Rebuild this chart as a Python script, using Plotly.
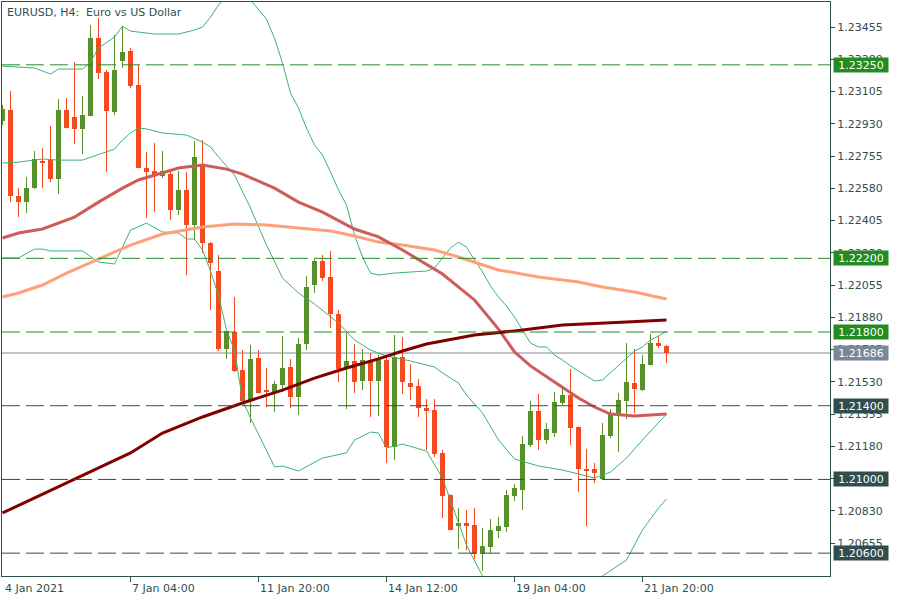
import plotly.graph_objects as go

# ---------------- data ----------------
tick_idx = [16, 32, 48, 64, 80]
tick_labels = ["7 Jan 04:00", "11 Jan 20:00", "14 Jan 12:00", "19 Jan 04:00", "21 Jan 20:00"]
first_label = "4 Jan 2021"

opens = [1.22945, 1.23005, 1.22538, 1.22505, 1.22581, 1.22728, 1.22733, 1.22630, 1.23005, 1.22967,
         1.22902, 1.22972, 1.23395, 1.23211, 1.22994, 1.23271, 1.23325, 1.23140, 1.22690, 1.22674,
         1.22647, 1.22657, 1.22462, 1.22571, 1.22381, 1.22706, 1.22283, 1.22131, 1.21708, 1.21800,
         1.21594, 1.21431, 1.21659, 1.21480, 1.21469, 1.21512, 1.21610, 1.21447, 1.21735, 1.22055,
         1.22185, 1.22099, 1.21898, 1.21599, 1.21643, 1.21534, 1.21648, 1.21534, 1.21648, 1.21176,
         1.21664, 1.21523, 1.21507, 1.21388, 1.21377, 1.21144, 1.20916, 1.20747, 1.20764, 1.20753,
         1.20595, 1.20633, 1.20720, 1.20742, 1.20910, 1.20943, 1.21187, 1.21371, 1.21214, 1.21252,
         1.21415, 1.21458, 1.21285, 1.21057, 1.21057, 1.21002, 1.21236, 1.21350, 1.21426, 1.21523,
         1.21485, 1.21621, 1.21740, 1.21724]
highs = [1.23032, 1.23108, 1.22581, 1.22641, 1.22782, 1.22798, 1.22918, 1.23064, 1.23070, 1.23265,
         1.23081, 1.23466, 1.23504, 1.23222, 1.23412, 1.23460, 1.23341, 1.23249, 1.22777, 1.22826,
         1.22782, 1.22679, 1.22674, 1.22668, 1.22836, 1.22842, 1.22288, 1.22218, 1.21808, 1.21990,
         1.21702, 1.21730, 1.21702, 1.21605, 1.21534, 1.21778, 1.21654, 1.21768, 1.22104, 1.22196,
         1.22218, 1.22240, 1.21919, 1.21795, 1.21735, 1.21708, 1.21686, 1.21675, 1.21664, 1.21784,
         1.21773, 1.21626, 1.21545, 1.21436, 1.21436, 1.21160, 1.20918, 1.20845, 1.20834, 1.20845,
         1.20737, 1.20785, 1.20796, 1.20943, 1.20975, 1.21236, 1.21426, 1.21464, 1.21306, 1.21475,
         1.21502, 1.21599, 1.21287, 1.21165, 1.21089, 1.21306, 1.21382, 1.21469, 1.21740, 1.21708,
         1.21675, 1.21789, 1.21778, 1.21730]
lows = [1.22923, 1.22505, 1.22424, 1.22446, 1.22576, 1.22581, 1.22614, 1.22549, 1.22905, 1.22820,
        1.22766, 1.22970, 1.23173, 1.22668, 1.22978, 1.23233, 1.23124, 1.22688, 1.22419, 1.22451,
        1.22636, 1.22408, 1.22435, 1.22109, 1.22299, 1.22229, 1.21919, 1.21697, 1.21654, 1.21583,
        1.21420, 1.21306, 1.21467, 1.21393, 1.21366, 1.21475, 1.21388, 1.21350, 1.21702, 1.22012,
        1.22077, 1.21822, 1.21529, 1.21382, 1.21469, 1.21485, 1.21339, 1.21344, 1.21089, 1.21106,
        1.21464, 1.21431, 1.21339, 1.21160, 1.21122, 1.20791, 1.20724, 1.20623, 1.20617, 1.20568,
        1.20503, 1.20601, 1.20682, 1.20715, 1.20883, 1.20834, 1.21176, 1.21160, 1.21192, 1.21230,
        1.21404, 1.21187, 1.20932, 1.20747, 1.20981, 1.21000, 1.21225, 1.21149, 1.21328, 1.21361,
        1.21480, 1.21619, 1.21713, 1.21632]
closes = [1.23010, 1.22538, 1.22505, 1.22581, 1.22739, 1.22722, 1.22630, 1.23005, 1.22907, 1.22902,
          1.22978, 1.23395, 1.23205, 1.22999, 1.23222, 1.23319, 1.23135, 1.22690, 1.22668, 1.22652,
          1.22674, 1.22462, 1.22571, 1.22381, 1.22750, 1.22283, 1.22174, 1.21708, 1.21806, 1.21588,
          1.21426, 1.21654, 1.21469, 1.21475, 1.21518, 1.21605, 1.21447, 1.21735, 1.22044, 1.22185,
          1.22093, 1.21898, 1.21599, 1.21643, 1.21529, 1.21648, 1.21534, 1.21648, 1.21176, 1.21664,
          1.21529, 1.21502, 1.21388, 1.21371, 1.21138, 1.20910, 1.20726, 1.20764, 1.20747, 1.20595,
          1.20639, 1.20726, 1.20747, 1.20916, 1.20954, 1.21192, 1.21371, 1.21214, 1.21274, 1.21420,
          1.21458, 1.21279, 1.21057, 1.21051, 1.21035, 1.21241, 1.21355, 1.21431, 1.21529, 1.21491,
          1.21626, 1.21740, 1.21724, 1.21686]

bb_up_idx = [0, 4, 6, 7, 10, 11, 12, 14, 15, 16, 19, 22, 24, 25, 26, 27, 29, 31, 33, 34, 35, 36, 37, 38, 39,
             40, 41, 42, 43, 44, 45, 46, 47, 49, 53, 54, 55, 56, 57, 58, 59, 60, 61, 62, 63, 64, 65, 66, 67,
             68, 69, 70, 71, 72, 73, 74, 75, 76, 77, 78, 79, 80, 81, 82, 83]
bb_up = [1.23243, 1.23233, 1.23200, 1.23227, 1.23227, 1.23265, 1.23341, 1.23401, 1.23460, 1.23433,
         1.23417, 1.23417, 1.23439, 1.23455, 1.23509, 1.23574, 1.23683, 1.23602, 1.23498, 1.23395,
         1.23260, 1.23097, 1.23016, 1.22907, 1.22815, 1.22761, 1.22668, 1.22571, 1.22489, 1.22326,
         1.22207, 1.22120, 1.22109, 1.22120, 1.22131, 1.22147, 1.22202, 1.22256, 1.22288, 1.22261,
         1.22191, 1.22126, 1.22050, 1.21990, 1.21941, 1.21881, 1.21811, 1.21740, 1.21719, 1.21719,
         1.21675, 1.21648, 1.21616, 1.21588, 1.21561, 1.21534, 1.21540, 1.21578, 1.21621, 1.21659,
         1.21697, 1.21719, 1.21757, 1.21778, 1.21806]
bb_mid_idx = [0, 2, 5, 7, 10, 12, 14, 15, 16, 17, 18, 20, 23, 25, 26, 27, 29, 31, 33, 35, 37, 39, 42, 44,
              46, 48, 51, 54, 55, 57, 58, 60, 62, 64, 67, 70, 74, 76, 78, 80, 82, 83]
bb_mid = [1.22717, 1.22722, 1.22739, 1.22733, 1.22733, 1.22761, 1.22793, 1.22842, 1.22880, 1.22907,
          1.22902, 1.22880, 1.22869, 1.22831, 1.22804, 1.22750, 1.22652, 1.22473, 1.22272, 1.22093,
          1.22012, 1.21952, 1.21849, 1.21757, 1.21702, 1.21670, 1.21643, 1.21610, 1.21578, 1.21523,
          1.21458, 1.21361, 1.21214, 1.21111, 1.21073, 1.21051, 1.21008, 1.21040, 1.21116, 1.21214,
          1.21306, 1.21355]
bb_lo_idx = [0, 2, 4, 5, 6, 10, 12, 14, 16, 18, 20, 22, 23, 24, 25, 26, 27, 28, 29, 30, 31, 33, 34, 35,
             37, 40, 43, 44, 46, 47, 48, 50, 53, 55, 56, 58, 60, 62, 67, 72, 74, 75, 78, 80, 82, 83]
bb_lo = [1.22202, 1.22202, 1.22250, 1.22250, 1.22240, 1.22240, 1.22180, 1.22169, 1.22353, 1.22391,
         1.22343, 1.22337, 1.22305, 1.22305, 1.22245, 1.22131, 1.22001, 1.21811, 1.21702, 1.21431,
         1.21334, 1.21154, 1.21068, 1.21073, 1.21046, 1.21116, 1.21144, 1.21214, 1.21257, 1.21252,
         1.21171, 1.21192, 1.21154, 1.21008, 1.20889, 1.20644, 1.20476, 1.20346, 1.20281, 1.20346,
         1.20427, 1.20476, 1.20563, 1.20726, 1.20845, 1.20894]

ma_red_idx = [0, 2, 5, 9, 12, 15, 17, 20, 22, 25, 28, 30, 34, 37, 40, 44, 47, 50, 53, 55, 59, 62, 64, 66,
              69, 72, 74, 76, 79, 83]
ma_red = [1.22310, 1.22337, 1.22359, 1.22424, 1.22505, 1.22581, 1.22625, 1.22663, 1.22690, 1.22706,
          1.22684, 1.22657, 1.22581, 1.22505, 1.22451, 1.22359, 1.22316, 1.22245, 1.22169, 1.22115,
          1.21974, 1.21816, 1.21692, 1.21616, 1.21529, 1.21442, 1.21393, 1.21355, 1.21344, 1.21355]
ma_salmon_idx = [0, 2, 5, 8, 12, 16, 20, 25, 29, 33, 37, 41, 44, 47, 50, 54, 57, 62, 67, 72, 75, 79, 83]
ma_salmon = [1.21990, 1.22012, 1.22055, 1.22120, 1.22196, 1.22272, 1.22332, 1.22370, 1.22386, 1.22381,
             1.22364, 1.22348, 1.22321, 1.22288, 1.22272, 1.22245, 1.22207, 1.22137, 1.22099, 1.22071,
             1.22044, 1.22017, 1.21979]
ma_maroon_idx = [0, 8, 16, 20, 25, 30, 35, 39, 43, 47, 50, 53, 59, 64, 70, 78, 83]
ma_maroon = [1.20818, 1.20981, 1.21144, 1.21252, 1.21339, 1.21415, 1.21485, 1.21550, 1.21605, 1.21654,
             1.21697, 1.21735, 1.21784, 1.21806, 1.21838, 1.21854, 1.21865]

price_ticks = [1.20655, 1.20830, 1.21005, 1.21180, 1.21355, 1.21530, 1.21705, 1.21880, 1.22055,
               1.22230, 1.22405, 1.22580, 1.22755, 1.22930, 1.23105, 1.23280, 1.23455]
green_levels = [1.2325, 1.2220, 1.2180]
slate_levels = [1.2140, 1.2100, 1.2060]
last_price = 1.21686

# ---------------- styles ----------------
BULL = "#58902B"
BEAR = "#F5491F"
FRAME = "#2F4F4F"
LEVEL_GREEN = "#228B22"
LEVEL_SLATE = "#2F4F4F"
PRICE_GRAY = "#778899"
FONT = "DejaVu Sans"

n = len(opens)
idx = list(range(n))

fig = go.Figure()

# wicks
for col, cond in ((BULL, True), (BEAR, False)):
    wx, wy = [], []
    for i in idx:
        if (closes[i] >= opens[i]) == cond:
            wx += [i, i, None]
            wy += [lows[i], highs[i], None]
    fig.add_trace(go.Scatter(x=wx, y=wy, mode="lines", line=dict(color=col, width=1),
                             hoverinfo="skip", showlegend=False))

# bodies
body_h = [max(abs(closes[i] - opens[i]), 0.00004) for i in idx]
body_b = [min(opens[i], closes[i]) for i in idx]
body_c = [BULL if closes[i] >= opens[i] else BEAR for i in idx]
fig.add_trace(go.Bar(x=idx, y=body_h, base=body_b, width=0.625,
                     marker=dict(color=body_c, line=dict(width=0)), showlegend=False))

# Bollinger bands
for bx, by in ((bb_up_idx, bb_up), (bb_mid_idx, bb_mid), (bb_lo_idx, bb_lo)):
    fig.add_trace(go.Scatter(x=bx, y=by, mode="lines", line=dict(color="#3CB371", width=1),
                             showlegend=False, hoverinfo="skip"))

# moving averages
fig.add_trace(go.Scatter(x=ma_salmon_idx, y=ma_salmon, mode="lines",
                         line=dict(color="#FFA07A", width=3), showlegend=False))
fig.add_trace(go.Scatter(x=ma_red_idx, y=ma_red, mode="lines",
                         line=dict(color="#CD5C5C", width=3), showlegend=False))
fig.add_trace(go.Scatter(x=ma_maroon_idx, y=ma_maroon, mode="lines",
                         line=dict(color="#800000", width=3), showlegend=False))

shapes = []
annotations = []


def level_box(val, color):
    annotations.append(dict(xref="paper", yref="y", x=1, y=val, xanchor="left", yanchor="middle",
                            xshift=3, text=f"{val:.5f}", showarrow=False, width=54, height=14,
                            bgcolor=color, borderpad=0,
                            font=dict(family=FONT, size=11, color="white")))


for lv in green_levels:
    shapes.append(dict(type="line", xref="paper", x0=0, x1=1, yref="y", y0=lv, y1=lv,
                       line=dict(color=LEVEL_GREEN, width=1, dash="18px,6px"), layer="above"))
    level_box(lv, LEVEL_GREEN)
for lv in slate_levels:
    shapes.append(dict(type="line", xref="paper", x0=0, x1=1, yref="y", y0=lv, y1=lv,
                       line=dict(color=LEVEL_SLATE, width=1, dash="18px,6px"), layer="above"))
    level_box(lv, LEVEL_SLATE)

shapes.append(dict(type="line", xref="paper", x0=0, x1=1, yref="y", y0=last_price, y1=last_price,
                   line=dict(color="#808A94", width=1), layer="below"))
level_box(last_price, PRICE_GRAY)

# title
annotations.append(dict(xref="paper", yref="paper", x=0, y=1, xanchor="left", yanchor="top",
                        xshift=3, yshift=-2, text="EURUSD, H4:  Euro vs US Dollar", showarrow=False,
                        font=dict(family=FONT, size=11, color=FRAME)))

# time labels (left aligned at the tick)
annotations.append(dict(xref="x", yref="paper", x=0, y=0, xanchor="left", yanchor="top", yshift=-4,
                        text=first_label, showarrow=False, font=dict(family=FONT, size=11, color=FRAME)))
for t, lab in zip(tick_idx, tick_labels):
    annotations.append(dict(xref="x", yref="paper", x=t, y=0, xanchor="left", yanchor="top", yshift=-4,
                            xshift=-1, text=lab, showarrow=False,
                            font=dict(family=FONT, size=11, color=FRAME)))

fig.update_layout(
    width=900, height=600,
    margin=dict(l=2, r=70, t=2, b=24),
    paper_bgcolor="white", plot_bgcolor="white",
    showlegend=False, bargap=0,
    shapes=shapes, annotations=annotations,
    xaxis=dict(range=[-0.0625, 103.4375], showgrid=False, zeroline=False, showline=True,
               linecolor=FRAME, linewidth=1, mirror=True, ticks="outside", tickvals=tick_idx,
               ticklen=5, tickcolor=FRAME, showticklabels=False, fixedrange=True),
    yaxis=dict(range=[1.20476, 1.23591], side="right", showgrid=False, zeroline=False,
               showline=True, linecolor=FRAME, linewidth=1, mirror=True, ticks="outside",
               tickvals=price_ticks, ticktext=[f"{v:.5f}" for v in price_ticks], ticklen=4,
               tickcolor=FRAME, tickfont=dict(family=FONT, size=11, color=FRAME)),
)

fig.write_html("out.html", config={"displayModeBar": False},
               post_script="document.body.style.margin='0';document.body.style.overflow='hidden';")
